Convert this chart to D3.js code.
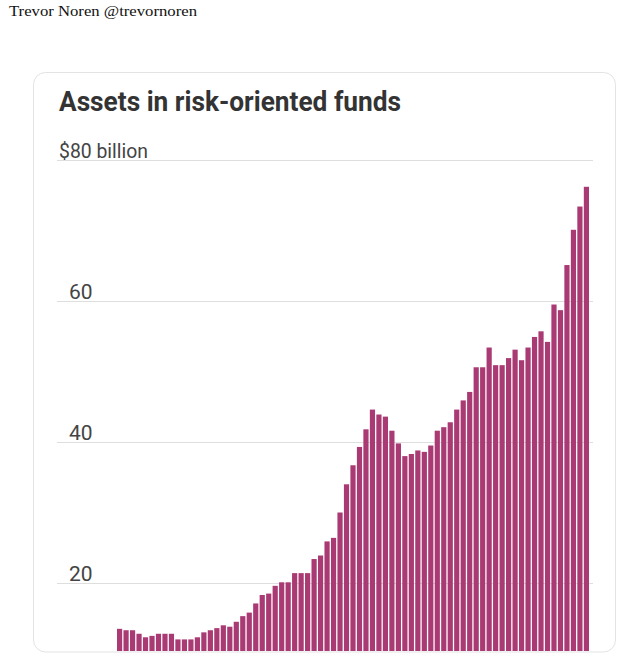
<!DOCTYPE html>
<html>
<head>
<meta charset="utf-8">
<script src="https://cdn.jsdelivr.net/npm/d3@7"></script>
<style>
html,body{margin:0;padding:0;background:#fff;}
svg{display:block;}
</style>
</head>
<body>
<svg id="c" width="628" height="663"></svg>
<script>
const title = "Assets in risk-oriented funds";
const credit = "Trevor Noren @trevornoren";
const tickValues = [20, 40, 60, 80];
const tickLabels = ["20", "40", "60", "$80 billion"];
const values = [
  13.5, 13.3, 13.3, 12.8, 12.3, 12.5, 12.8, 12.8, 12.8, 12.0,
  12.0, 12.0, 12.3, 13.0, 13.3, 13.6, 14.0, 13.8, 14.5, 15.3,
  15.8, 17.1, 18.3, 18.5, 19.6, 20.1, 20.1, 21.4, 21.4, 21.4,
  23.4, 23.9, 25.9, 26.4, 30.0, 34.0, 36.7, 39.3, 41.8, 44.6,
  43.9, 43.6, 41.6, 39.8, 38.0, 38.3, 38.8, 38.6, 39.5, 41.6,
  42.1, 42.8, 44.6, 45.9, 47.1, 50.6, 50.6, 53.4, 50.9, 50.9,
  51.9, 53.1, 51.6, 53.4, 54.9, 55.7, 54.2, 59.5, 58.7, 65.1,
  70.1, 73.4, 76.2
];
const periods = values.map((d, i) => i);

const svg = d3.select("#c");
const card = {x: 33.5, y: 72.5, w: 582, h: 579.5, r: 12};

svg.append("rect").attr("width", 628).attr("height", 663).attr("fill", "#fff");

svg.append("text")
  .attr("x", 9).attr("y", 16)
  .attr("font-family", "'Liberation Serif', 'DejaVu Serif', serif")
  .attr("font-size", 15).attr("fill", "#111")
  .attr("textLength", 188).attr("lengthAdjust", "spacingAndGlyphs")
  .text(credit);

const defs = svg.append("defs");
defs.append("clipPath").attr("id", "cardClip")
  .append("rect")
  .attr("x", card.x).attr("y", card.y).attr("width", card.w).attr("height", card.h)
  .attr("rx", card.r);

svg.append("rect")
  .attr("x", card.x).attr("y", card.y).attr("width", card.w).attr("height", card.h)
  .attr("rx", card.r).attr("fill", "#fff")
  .attr("stroke", "#e3e3e3").attr("stroke-width", 1);

svg.append("text")
  .attr("x", 59).attr("y", 111)
  .attr("font-family", "Roboto, 'Open Sans', sans-serif")
  .attr("font-weight", 700).attr("font-size", 27).attr("fill", "#333")
  .attr("textLength", 342).attr("lengthAdjust", "spacingAndGlyphs")
  .text(title);

const y = d3.scaleLinear().domain([0, 80]).range([724, 160]);
const x = d3.scaleBand().domain(periods).range([117, 589]).paddingInner(0.2);

const axis = d3.axisRight(y)
  .tickValues(tickValues)
  .tickSize(536)
  .tickFormat((d, i) => tickLabels[i]);

const g = svg.append("g").attr("transform", "translate(57,0)").call(axis);
g.select(".domain").remove();
g.selectAll(".tick line").attr("stroke", "#dedede").attr("stroke-width", 1);
g.selectAll(".tick text")
  .attr("x", d => d === 80 ? 2 : 12)
  .attr("y", -3)
  .attr("dy", 0)
  .attr("text-anchor", "start")
  .attr("font-family", "Roboto, 'Open Sans', sans-serif")
  .attr("font-size", 21)
  .attr("fill", "#444")
  .each(function(d) {
    if (d === 80) d3.select(this).attr("textLength", 89).attr("lengthAdjust", "spacingAndGlyphs");
  });

svg.append("g").attr("clip-path", "url(#cardClip)")
  .selectAll("rect").data(values).join("rect")
  .attr("x", (d, i) => x(i))
  .attr("width", x.bandwidth())
  .attr("y", d => y(d))
  .attr("height", d => 651 - y(d))
  .attr("fill", "#aa3a73");
</script>
</body>
</html>
